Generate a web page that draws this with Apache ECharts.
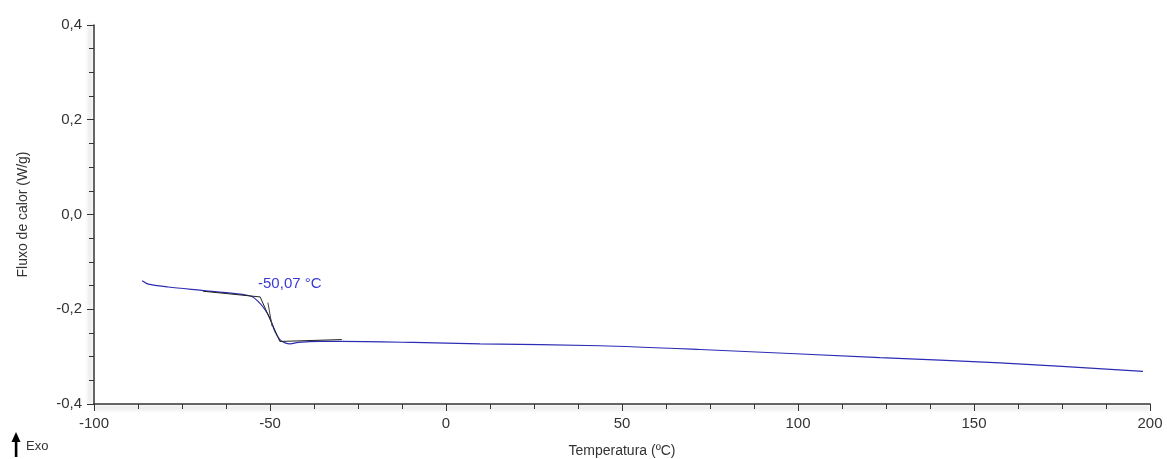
<!DOCTYPE html>
<html>
<head>
<meta charset="utf-8">
<script src="https://cdn.jsdelivr.net/npm/echarts@6/dist/echarts.min.js"></script>
<style>html,body{margin:0;padding:0;background:#fff}#c{width:1167px;height:459px}</style>
</head>
<body>
<div id="c"></div>
<script>
// Heat flow curve (temperature °C, heat flow W/g)
var temps = [-86.3, -84.6, -78.9, -69.4, -59.9, -55.2, -53.3, -51.4, -50.0, -48.6, -47.2, -45.7, -44.3, -42.0, -35.8, -30.1, -9.4, 9.7, 43.8, 72.2, 123.3, 157.4, 198.0];
var flows = [-0.140, -0.147, -0.153, -0.160, -0.167, -0.173, -0.184, -0.201, -0.219, -0.247, -0.264, -0.271, -0.273, -0.270, -0.268, -0.268, -0.270, -0.273, -0.277, -0.285, -0.302, -0.313, -0.331];
// Glass transition construction lines
var tangentX = [-69.0, -52.8, -47.2, -29.6];
var tangentY = [-0.162, -0.174, -0.268, -0.264];
var markX = [-50.6, -49.4];
var markY = [-0.186, -0.236];
var tgLabel = '-50,07 °C';
var tgLabelPos = [-53.4, -0.146];
var xTicks = [-100, -50, 0, 50, 100, 150, 200];
var yTicks = [-0.4, -0.2, 0.0, 0.2, 0.4];

function zip(a, b) { return a.map(function (v, i) { return [v, b[i]]; }); }

var font = 'Arial, "Liberation Sans", sans-serif';
var chart = echarts.init(document.getElementById('c'));
chart.setOption({
  animation: false,
  backgroundColor: '#fff',
  grid: { left: 94, right: 17, top: 25, bottom: 55, containLabel: false, outerBoundsMode: 'none' },
  xAxis: {
    type: 'value', min: -100, max: 200, interval: 50,
    name: 'Temperatura (ºC)', nameLocation: 'middle', nameGap: 40,
    nameTextStyle: { fontFamily: font, fontSize: 14, color: '#333' },
    axisLine: { onZero: false, lineStyle: { color: '#333', width: 1.5, shadowColor: 'rgba(0,0,0,0.25)', shadowBlur: 4, shadowOffsetY: 4 } },
    axisTick: { length: 7, lineStyle: { color: '#333' } },
    minorTick: { show: true, splitNumber: 4, length: 5, lineStyle: { color: '#333' } },
    splitLine: { show: false },
    axisLabel: { fontFamily: font, fontSize: 15, color: '#333', margin: 12,
      formatter: function (v) { return xTicks.indexOf(v) >= 0 ? String(v) : ''; } }
  },
  yAxis: {
    type: 'value', min: -0.4, max: 0.4, interval: 0.2,
    name: 'Fluxo de calor (W/g)', nameLocation: 'middle', nameGap: 64,
    nameTextStyle: { fontFamily: font, fontSize: 14, color: '#333' },
    axisLine: { show: true, onZero: false, lineStyle: { color: '#333', width: 1.5, shadowColor: 'rgba(0,0,0,0.25)', shadowBlur: 4, shadowOffsetX: -4 } },
    axisTick: { show: true, length: 7, lineStyle: { color: '#333' } },
    minorTick: { show: true, splitNumber: 4, length: 5, lineStyle: { color: '#333' } },
    splitLine: { show: false },
    axisLabel: { fontFamily: font, fontSize: 15, color: '#333', margin: 12,
      formatter: function (v) {
        var r = Math.round(v * 10) / 10;
        return r.toFixed(1).replace('.', ',');
      } }
  },
  series: [
    {
      type: 'line', data: zip(tangentX, tangentY), symbol: 'none',
      lineStyle: { color: '#222', width: 1 }, z: 3
    },
    {
      type: 'line', data: zip(markX, markY), symbol: 'none',
      lineStyle: { color: '#444', width: 1 }, z: 3
    },
    {
      type: 'line', data: zip(temps, flows), symbol: 'none', smooth: 0.3,
      lineStyle: { color: '#2c2cb4', width: 1.2 }, z: 2,
      markPoint: {
        symbol: 'circle', symbolSize: 0,
        data: [{ coord: tgLabelPos, value: tgLabel }],
        label: { show: true, position: 'right', distance: 0, formatter: tgLabel,
          fontFamily: font, fontSize: 15, color: '#3a3ad0' }
      }
    }
  ],
  graphic: [
    { type: 'polygon', shape: { points: [[16, 432], [11.5, 442], [20.5, 442]] }, style: { fill: '#000' } },
    { type: 'rect', shape: { x: 14.8, y: 440, width: 2.6, height: 17 }, style: { fill: '#000' } },
    { type: 'text', left: 26, top: 440, style: { text: 'Exo', font: '13px ' + font, fill: '#333' } }
  ]
});
</script>
</body>
</html>
